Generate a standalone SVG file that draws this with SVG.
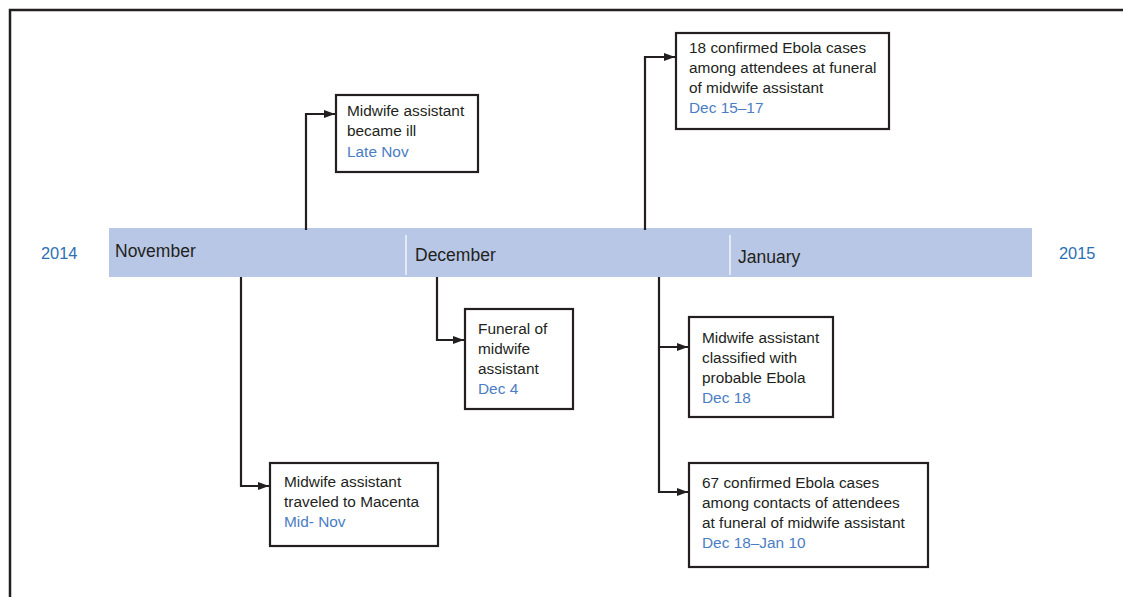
<svg xmlns="http://www.w3.org/2000/svg" width="1123" height="597" viewBox="0 0 1123 597">
<style>
text{font-family:"Liberation Sans",Arial,sans-serif;fill:#231f20}
.t{font-size:15.4px}
.d{fill:#4a7dc4}
.m{font-size:17.5px}
.y{font-size:16.4px;fill:#2b6fb4}
.box{fill:#fff;stroke:#231f20;stroke-width:2.2}
.c{fill:none;stroke:#231f20;stroke-width:2.2}
</style>
<defs>
<marker id="ah" viewBox="0 0 11 8" refX="11" refY="4" markerWidth="11" markerHeight="8" markerUnits="userSpaceOnUse" orient="auto">
<path d="M0,0 L11,4 L0,8 Z" fill="#231f20"/>
</marker>
</defs>
<rect width="1123" height="597" fill="#fff"/>
<path d="M10,597 V10 H1123" fill="none" stroke="#231f20" stroke-width="2.5"/>
<g id="timeline">
<rect x="109" y="228" width="923" height="49" fill="#b8c7e5"/>
<line x1="406" y1="235" x2="406" y2="275" stroke="#fff" stroke-width="1.2"/>
<line x1="730" y1="235" x2="730" y2="275" stroke="#fff" stroke-width="1.2"/>
<text class="y" x="41" y="259">2014</text>
<text class="m" x="115" y="257">November</text>
<text class="m" x="415" y="261">December</text>
<text class="m" x="738" y="263">January</text>
<text class="y" x="1059" y="259">2015</text>
</g>
<g id="connectors">
<path class="c" d="M306,230 V114 H335" marker-end="url(#ah)"/>
<path class="c" d="M645,230 V57 H675" marker-end="url(#ah)"/>
<path class="c" d="M437,277 V340 H464" marker-end="url(#ah)"/>
<path class="c" d="M241,277 V486 H269" marker-end="url(#ah)"/>
<path class="c" d="M659,277 V347 H688" marker-end="url(#ah)"/>
<path class="c" d="M659,347 V492 H688" marker-end="url(#ah)"/>
</g>
<g id="n-ill">
<rect class="box" x="336" y="95" width="142" height="77"/>
<text class="t" x="347" y="116">Midwife assistant</text>
<text class="t" x="347" y="136">became ill</text>
<text class="t d" x="347" y="157">Late Nov</text>
</g>
<g id="n-18cases">
<rect class="box" x="676" y="33" width="213" height="96"/>
<text class="t" x="689" y="53">18 confirmed Ebola cases</text>
<text class="t" x="689" y="73">among attendees at funeral</text>
<text class="t" x="689" y="93">of midwife assistant</text>
<text class="t d" x="689" y="113">Dec 15–17</text>
</g>
<g id="n-funeral">
<rect class="box" x="465" y="309" width="108" height="100"/>
<text class="t" x="478" y="334">Funeral of</text>
<text class="t" x="478" y="354">midwife</text>
<text class="t" x="478" y="374">assistant</text>
<text class="t d" x="478" y="394">Dec 4</text>
</g>
<g id="n-traveled">
<rect class="box" x="270" y="463" width="168" height="83"/>
<text class="t" x="284" y="487">Midwife assistant</text>
<text class="t" x="284" y="507">traveled to Macenta</text>
<text class="t d" x="284" y="527">Mid- Nov</text>
</g>
<g id="n-classified">
<rect class="box" x="689" y="317" width="144" height="100"/>
<text class="t" x="702" y="343">Midwife assistant</text>
<text class="t" x="702" y="363">classified with</text>
<text class="t" x="702" y="383">probable Ebola</text>
<text class="t d" x="702" y="403">Dec 18</text>
</g>
<g id="n-67cases">
<rect class="box" x="689" y="463" width="239" height="104"/>
<text class="t" x="702" y="488">67 confirmed Ebola cases</text>
<text class="t" x="702" y="508">among contacts of attendees</text>
<text class="t" x="702" y="528">at funeral of midwife assistant</text>
<text class="t d" x="702" y="548">Dec 18–Jan 10</text>
</g>
</svg>
